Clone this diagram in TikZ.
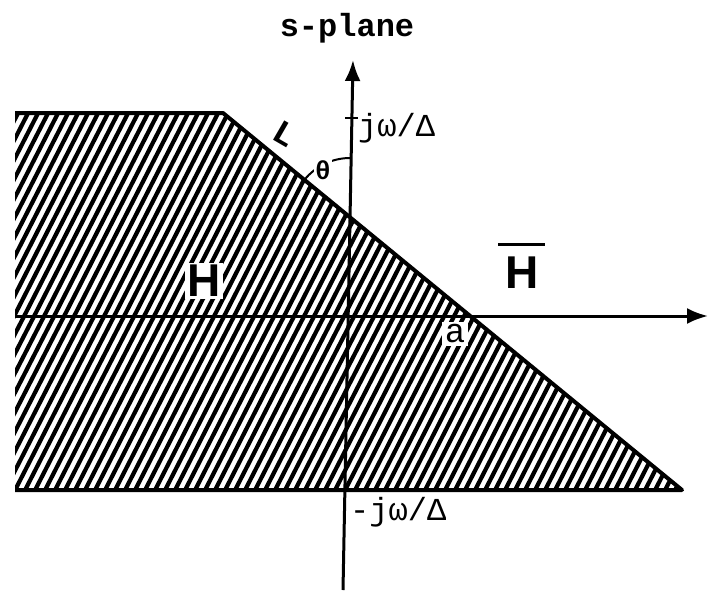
\documentclass[tikz,border=0pt]{standalone}
\usepackage{fontspec}
\setmainfont{Liberation Mono}
\newfontfamily\hfont{Liberation Sans}
\usetikzlibrary{arrows.meta}
\begin{document}
\begin{tikzpicture}[x=1pt,y=-1pt,
  axis/.style={line width=3pt,-{Latex[length=21pt,width=16pt]}},
  edge/.style={line width=4pt,line join=round},
  hatch/.style={line width=4.2pt},
  lbl/.style={font=\fontsize{32}{32}\selectfont, inner sep=0pt}]
\useasboundingbox (0,0) rectangle (709,594);
\coordinate (tl) at (15,113);
\coordinate (bend) at (223,113);
\coordinate (tip) at (682,490);
\coordinate (bl) at (15,490);
\begin{scope}
  \clip (tl) -- (bend) -- (tip) -- (bl) -- cycle;
  \foreach \x in {-260,-250,...,700} \draw[hatch] (\x,500) -- ++(215,-420);
\end{scope}
\draw[edge] (tl) -- (bend) -- (tip) -- (bl);
\node[fill=white, inner sep=3pt, font=\fontsize{34}{34}\selectfont] (a) at (455,334) {a};
\coordinate (xs) at (15,316);
\coordinate (xe) at (708,316);
\coordinate (ys) at (343,590);
\coordinate (ye) at (353,60);
\draw[axis] (xs) -- (xe);
\draw[axis] (ys) -- (ye);
\coordinate (t1) at (345,118);
\coordinate (t2) at (358,118);
\draw[line width=2.5pt] (t1) -- (t2);
\node[font=\bfseries\fontsize{32}{32}\selectfont] (title) at (347,28) {s-plane};
\node[lbl, anchor=west] (jw) at (358,128) {jω/Δ};
\node[lbl, anchor=west] (mjw) at (350,512) {-jω/Δ};
\node[inner sep=0pt, rotate=-30, font=\bfseries\fontsize{34}{34}\selectfont] (L) at (285,134) {L};
\draw[line width=2pt] (350,158) .. controls (332.35,158) and (315.6,166.2) .. (304.4,179.8);
\node[fill=white, inner sep=1pt, font=\bfseries\fontsize{26}{26}\selectfont] (th) at (323,170) {θ};
\node[font=\hfont\bfseries\fontsize{46}{46}\selectfont, fill=white, inner sep=2pt] (H) at (204,281) {H};
\node[font=\hfont\bfseries\fontsize{46}{46}\selectfont, inner sep=0pt] (Hb) at (522,273) {H};
\coordinate (b1) at (498,244);
\coordinate (b2) at (545,244);
\draw[line width=3pt] (b1) -- (b2);
\end{tikzpicture}
\end{document}
